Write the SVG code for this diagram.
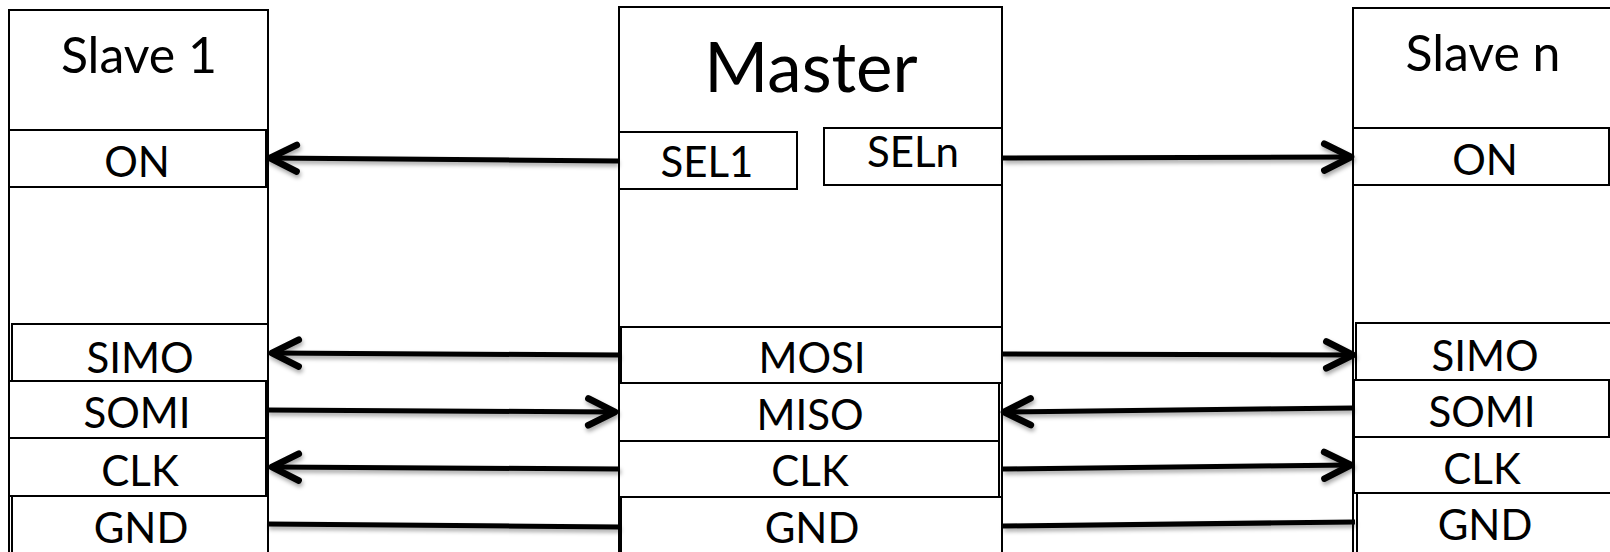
<svg xmlns="http://www.w3.org/2000/svg" width="1610" height="552" viewBox="0 0 1610 552">
<style>
.box{fill:#fff;stroke:#000;stroke-width:2}
.t{font-family:Lato,"Liberation Sans",sans-serif;fill:#000;text-anchor:middle}
.lbl{font-size:42px}
.title{font-size:50px}
.big{font-size:69px}
.con{stroke:#000;stroke-width:5;fill:none;stroke-linecap:butt}
</style>
<defs>
<filter id="sh" x="-10%" y="-100%" width="120%" height="300%">
<feDropShadow dx="1" dy="3" stdDeviation="2" flood-color="#000" flood-opacity="0.35"/>
</filter>
<marker id="ah" markerUnits="userSpaceOnUse" orient="auto" markerWidth="40" markerHeight="40" refX="0" refY="0" viewBox="-25 -15 30 30" overflow="visible">
<path d="M-20,-10 L0,0 L-20,10" fill="none" stroke="#000" stroke-width="5" stroke-linecap="round" stroke-linejoin="round"/>
</marker>
</defs>
<rect width="1610" height="552" fill="#fff"/>

<g id="slave1">
<rect class="box" x="9" y="10" width="259" height="560"/>
<text class="t title" x="139" y="73">Slave 1</text>
<rect class="box" x="9" y="130" width="257" height="57"/>
<text class="t lbl" x="137" y="177">ON</text>
<rect class="box" x="12" y="324" width="256" height="57"/>
<text class="t lbl" x="140" y="373">SIMO</text>
<rect class="box" x="9" y="381" width="257" height="57"/>
<text class="t lbl" x="137" y="428">SOMI</text>
<rect class="box" x="9" y="438" width="257" height="58"/>
<text class="t lbl" x="140" y="486">CLK</text>
<rect class="box" x="12" y="496" width="256" height="70"/>
<text class="t lbl" x="141" y="543">GND</text>
</g>

<g id="master">
<rect class="box" x="619" y="7" width="383" height="563"/>
<text class="t big" x="811" y="92">Master</text>
<rect class="box" x="619" y="132" width="178" height="57"/>
<text class="t lbl" x="707" y="177">SEL1</text>
<rect class="box" x="824" y="128" width="178" height="57"/>
<text class="t lbl" x="913" y="167">SELn</text>
<rect class="box" x="621" y="327" width="381" height="56"/>
<text class="t lbl" x="812" y="373">MOSI</text>
<rect class="box" x="619" y="383" width="380" height="58"/>
<text class="t lbl" x="810" y="430">MISO</text>
<rect class="box" x="619" y="441" width="380" height="56"/>
<text class="t lbl" x="810" y="486">CLK</text>
<rect class="box" x="621" y="497" width="381" height="70"/>
<text class="t lbl" x="812" y="543">GND</text>
</g>

<g id="slaven">
<rect class="box" x="1353" y="8" width="280" height="562"/>
<text class="t title" x="1483" y="71">Slave n</text>
<rect class="box" x="1353" y="128" width="256" height="57"/>
<text class="t lbl" x="1485" y="175">ON</text>
<rect class="box" x="1356" y="323" width="270" height="57"/>
<text class="t lbl" x="1485" y="371">SIMO</text>
<rect class="box" x="1354" y="380" width="255" height="57"/>
<text class="t lbl" x="1482" y="427">SOMI</text>
<rect class="box" x="1354" y="437" width="270" height="56"/>
<text class="t lbl" x="1482" y="484">CLK</text>
<rect class="box" x="1357" y="493" width="270" height="70"/>
<text class="t lbl" x="1485" y="540">GND</text>
</g>

<g id="connectors" filter="url(#sh)">
<line class="con" x1="618" y1="161" x2="270" y2="158" marker-end="url(#ah)"/>
<line class="con" x1="1003" y1="158" x2="1351" y2="157" marker-end="url(#ah)"/>
<line class="con" x1="620" y1="355" x2="272" y2="353" marker-end="url(#ah)"/>
<line class="con" x1="267" y1="410" x2="615" y2="412" marker-end="url(#ah)"/>
<line class="con" x1="620" y1="469" x2="272" y2="467" marker-end="url(#ah)"/>
<line class="con" x1="268" y1="524" x2="620" y2="527"/>
<line class="con" x1="1003" y1="354" x2="1353" y2="355" marker-end="url(#ah)"/>
<line class="con" x1="1353" y1="408" x2="1004" y2="412" marker-end="url(#ah)"/>
<line class="con" x1="1003" y1="469" x2="1351" y2="465" marker-end="url(#ah)"/>
<line class="con" x1="1003" y1="526" x2="1355" y2="522"/>
</g>
</svg>
